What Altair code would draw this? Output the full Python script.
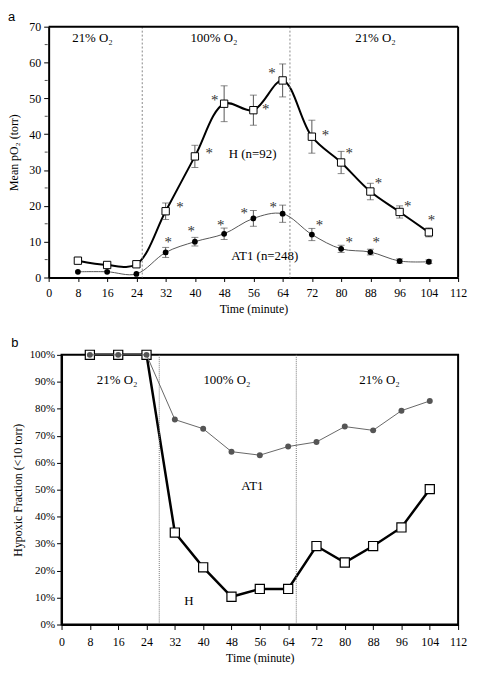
import altair as alt
import pandas as pd

# ---------------- data ----------------
time = [8, 16, 24, 32, 40, 48, 56, 64, 72, 80, 88, 96, 104]

# panel a: mean pO2 (torr) with error bars
h_mean = [4.7, 3.5, 3.7, 18.5, 33.8, 48.5, 46.7, 55.0, 39.3, 32.1, 24.0, 18.3, 12.6]
h_err = [0, 0, 0, 2.3, 3.1, 5.0, 4.2, 4.6, 4.6, 3.1, 2.3, 1.7, 1.25]
at1_mean = [1.6, 1.6, 1.0, 7.0, 10.0, 12.2, 16.5, 17.8, 12.0, 8.0, 7.1, 4.6, 4.4]
at1_err = [0, 0, 0, 1.4, 1.2, 1.6, 2.2, 2.4, 1.7, 1.0, 0.8, 0.6, 0.5]

# significance asterisks (time, value)
h_star_t = [35.9, 43.9, 45.4, 59.4, 61.1, 75.7, 82.2, 90.2, 98.2, 104.7]
h_star_v = [20.2, 35.4, 50.2, 47.7, 57.6, 40.3, 35.2, 26.9, 20.4, 16.7]
at1_star_t = [32.7, 39.0, 47.1, 53.5, 61.4, 74.1, 82.2, 89.6]
at1_star_v = [10.5, 13.5, 15.3, 18.6, 20.2, 15.1, 10.5, 10.5]

# panel b: hypoxic fraction (<10 torr)
hf_h = [1.00, 1.00, 1.00, 0.341, 0.212, 0.103, 0.132, 0.132, 0.291, 0.230, 0.291, 0.360, 0.502]
hf_at1 = [1.00, 1.00, 1.00, 0.760, 0.726, 0.641, 0.628, 0.660, 0.677, 0.734, 0.720, 0.793, 0.829]

# phase boundaries and labels
a_bounds = [25.6, 66.0]
b_bounds = [27.6, 66.3]
phase_labels = ["21% O\u2082", "100% O\u2082", "21% O\u2082"]
a_phase_t = [12.0, 45.2, 89.4]
a_phase_v = [66.8, 66.8, 66.8]
b_phase_t = [15.7, 46.7, 89.8]
b_phase_v = [0.907, 0.907, 0.907]

a_series_text = ["H (n=92)", "AT1 (n=248)"]
a_series_t = [55.8, 59.1]
a_series_v = [34.5, 6.1]
b_series_text = ["AT1", "H"]
b_series_t = [53.9, 36.0]
b_series_v = [0.515, 0.088]

# y-axis ticks of panel a: labelled majors and unlabelled minors
a_major = [0, 10, 20, 30, 40, 50, 60, 70]
a_minor = [5, 15, 25, 35, 45, 55, 65]

SERIF = "Liberation Serif"

# ---------------- tables ----------------
dfa = pd.DataFrame({
    "t": time * 2,
    "v": h_mean + at1_mean,
    "lo": [m - e for m, e in zip(h_mean, h_err)] + [m - e for m, e in zip(at1_mean, at1_err)],
    "hi": [m + e for m, e in zip(h_mean, h_err)] + [m + e for m, e in zip(at1_mean, at1_err)],
    "s": ["H"] * len(time) + ["AT1"] * len(time),
})
dfa_err = dfa[dfa["hi"] > dfa["lo"]]
dfa_h = dfa[dfa.s == "H"]
dfa_a = dfa[dfa.s == "AT1"]
stars = pd.DataFrame({"t": h_star_t + at1_star_t, "v": h_star_v + at1_star_v})

# panel a reaches further left than panel b: extend its x range left of the shared origin
A_SHIFT = 13
W = 400
xa_scale = alt.Scale(domain=[0, 112], nice=False, zero=False, range=[-A_SHIFT, W])
xa_axis = alt.Axis(values=list(range(0, 113, 8)), title="Time (minute)",
                   tickSize=4, labelPadding=6, titlePadding=5, labelOverlap=False)
ya_scale = alt.Scale(domain=[0, 70], nice=False)
ya_axis = alt.Axis(values=a_major, title="Mean pO\u2082 (torr)", labelOverlap=False,
                   tickSize=5, labelPadding=3, titlePadding=8, offset=A_SHIFT)


def XA(field="t"):
    return alt.X(f"{field}:Q", scale=xa_scale, axis=xa_axis)


def YA(field="v"):
    return alt.Y(f"{field}:Q", scale=ya_scale, axis=ya_axis)


vl_a = alt.Chart(pd.DataFrame({"t": a_bounds})).mark_rule(
    color="#888", strokeDash=[2, 2], strokeWidth=1).encode(x=XA())
minor_a = alt.Chart(pd.DataFrame({"t": [0] * len(a_minor), "v": a_minor})).mark_tick(
    orient="horizontal", size=3, thickness=1, color="black", xOffset=-2.5).encode(x=XA(), y=YA())
frame_top = alt.Chart(pd.DataFrame({"t": [0], "t2": [112], "v": [70]})).mark_rule(
    color="black", strokeWidth=2).encode(x=XA(), x2="t2:Q", y=YA())
frame_right = alt.Chart(pd.DataFrame({"t": [112], "v": [0], "v2": [70]})).mark_rule(
    color="black", strokeWidth=2).encode(x=XA(), y=YA(), y2="v2:Q")
err_rule = alt.Chart(dfa_err).mark_rule(color="#555", strokeWidth=1).encode(
    x=XA(), y=YA("lo"), y2="hi:Q")
err_lo = alt.Chart(dfa_err).mark_tick(color="#555", orient="horizontal", size=7, thickness=1).encode(
    x=XA(), y=YA("lo"))
err_hi = alt.Chart(dfa_err).mark_tick(color="#555", orient="horizontal", size=7, thickness=1).encode(
    x=XA(), y=YA("hi"))
line_h = alt.Chart(dfa_h).mark_line(color="black", strokeWidth=2, interpolate="catmull-rom").encode(
    x=XA(), y=YA())
line_a = alt.Chart(dfa_a).mark_line(color="#555", strokeWidth=1, interpolate="catmull-rom").encode(
    x=XA(), y=YA())
pts_h = alt.Chart(dfa_h).mark_point(shape="square", size=55, filled=True, fill="white",
                                     stroke="black", strokeWidth=1, opacity=1).encode(x=XA(), y=YA())
pts_a = alt.Chart(dfa_a).mark_point(shape="circle", size=34, filled=True, color="black",
                                     opacity=1).encode(x=XA(), y=YA())
star_txt = alt.Chart(stars).mark_text(text="*", font=SERIF, fontSize=15, color="#333",
                                      baseline="alphabetic", dy=7).encode(x=XA(), y=YA())
phase_a = alt.Chart(pd.DataFrame({"t": a_phase_t, "v": a_phase_v, "lab": phase_labels})).mark_text(
    font=SERIF, fontSize=13, color="black").encode(x=XA(), y=YA(), text="lab:N")
series_a = alt.Chart(pd.DataFrame({"t": a_series_t, "v": a_series_v, "lab": a_series_text})).mark_text(
    font=SERIF, fontSize=13, color="black").encode(x=XA(), y=YA(), text="lab:N")

top = alt.layer(line_h, vl_a, err_rule, err_lo, err_hi, line_a, pts_h, pts_a,
                star_txt, phase_a, series_a, frame_top, frame_right, minor_a).properties(
    width=W, height=253,
    view=alt.ViewBackground(strokeOpacity=0),
    title=alt.TitleParams("a", anchor="start", frame="bounds", font="Liberation Sans",
                          fontSize=13, fontWeight="normal", offset=-3, color="black"))

# ---------------- panel b ----------------
dfb = pd.DataFrame({"t": time * 2, "v": hf_h + hf_at1,
                    "s": ["H"] * len(time) + ["AT1"] * len(time)})
dfb_h = dfb[dfb.s == "H"]
dfb_a = dfb[dfb.s == "AT1"]

xb = alt.X("t:Q", scale=alt.Scale(domain=[0, 112], nice=False, zero=False),
           axis=alt.Axis(values=list(range(0, 113, 8)), title="Time (minute)",
                         tickSize=5, labelPadding=7, titlePadding=5, labelOverlap=False))
yb = alt.Y("v:Q", scale=alt.Scale(domain=[0, 1], nice=False),
           axis=alt.Axis(values=[i / 10 for i in range(11)], format=".0%",
                         title="Hypoxic Fraction (<10 torr)", labelFontSize=11,
                         labelOverlap=False,
                         tickSize=5, labelPadding=2, titlePadding=5))

vl_b = alt.Chart(pd.DataFrame({"t": b_bounds})).mark_rule(
    color="#777", strokeDash=[1, 1], strokeWidth=1).encode(x=xb)
bline_h = alt.Chart(dfb_h).mark_line(color="black", strokeWidth=2.5).encode(x=xb, y=yb)
bpts_h = alt.Chart(dfb_h).mark_point(shape="square", size=85, filled=True, fill="white",
                                      stroke="black", strokeWidth=1.2, opacity=1).encode(x=xb, y=yb)
bline_a = alt.Chart(dfb_a).mark_line(color="#666", strokeWidth=1).encode(x=xb, y=yb)
bpts_a = alt.Chart(dfb_a).mark_point(shape="circle", size=36, filled=True, color="#555",
                                      opacity=1).encode(x=xb, y=yb)
phase_b = alt.Chart(pd.DataFrame({"t": b_phase_t, "v": b_phase_v, "lab": phase_labels})).mark_text(
    font=SERIF, fontSize=13, color="black").encode(x=xb, y=yb, text="lab:N")
series_b = alt.Chart(pd.DataFrame({"t": b_series_t, "v": b_series_v, "lab": b_series_text})).mark_text(
    font=SERIF, fontSize=13, color="black").encode(x=xb, y=yb, text="lab:N")

bottom = alt.layer(bline_h, vl_b, bpts_h, bline_a, bpts_a, phase_b, series_b).properties(
    width=W, height=272,
    view=alt.ViewBackground(stroke="black", strokeWidth=2),
    title=alt.TitleParams("b", anchor="start", frame="bounds", font="Liberation Sans",
                          fontSize=13, fontWeight="normal", offset=-2, color="black"))

chart = alt.vconcat(top, bottom, spacing=21).properties(padding=0).configure_view(
    stroke="black", strokeWidth=2
).configure_axis(
    grid=False, labelFont=SERIF, titleFont=SERIF, labelFontSize=12, titleFontSize=12,
    titleFontWeight="normal", domainColor="black", domainWidth=2, tickColor="black",
    tickWidth=1, labelColor="black", titleColor="black", labelOverlap=False, labelFlush=False
)

chart.save("out.html", embed_options={"renderer": "svg", "actions": False})
